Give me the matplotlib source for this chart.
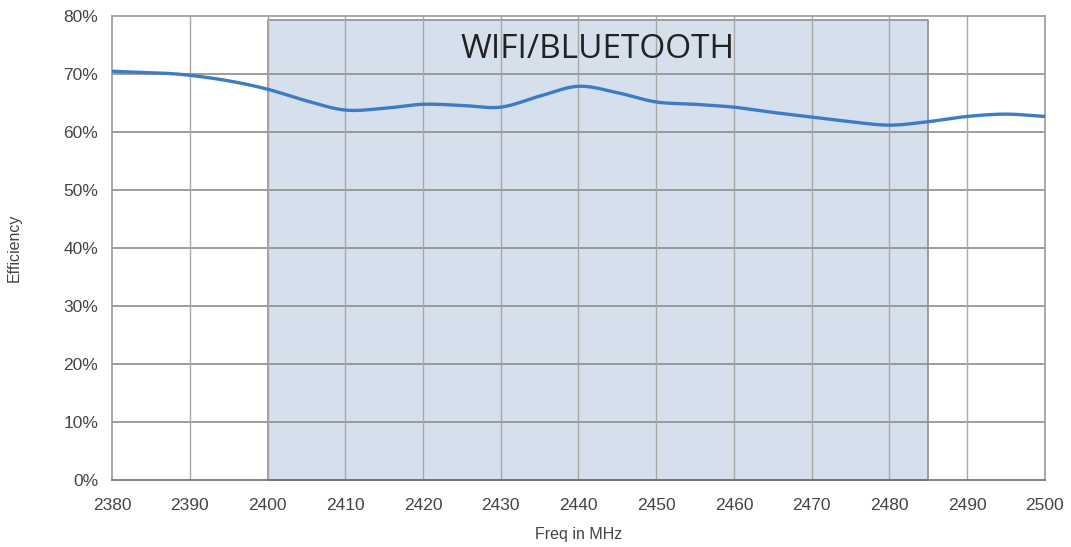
import matplotlib
matplotlib.use('Agg')
import matplotlib.pyplot as plt
import numpy as np

# data
freq = [2380, 2390, 2400, 2405, 2410, 2415, 2420, 2425, 2430, 2435, 2440, 2445,
        2450, 2455, 2460, 2465, 2470, 2475, 2480, 2485, 2490, 2495, 2500]
eff = [70.5, 69.8, 67.4, 65.4, 63.8, 64.1, 64.8, 64.6, 64.3, 66.2, 67.9, 66.8,
       65.2, 64.8, 64.3, 63.4, 62.6, 61.8, 61.2, 61.8, 62.7, 63.1, 62.7]
band_lo, band_hi, band_top = 2400, 2485, 79.3
band_label = 'WIFI/BLUETOOTH'


# smooth curve through the read points (cubic hermite)
def smooth(xp, yp, xq):
    xp = np.asarray(xp, float)
    yp = np.asarray(yp, float)
    m = np.gradient(yp, xp)
    out = np.empty_like(xq)
    for k, x in enumerate(xq):
        i = min(np.searchsorted(xp, x, side='right') - 1, len(xp) - 2)
        h = xp[i + 1] - xp[i]
        t = (x - xp[i]) / h
        h00 = 2*t**3 - 3*t**2 + 1
        h10 = t**3 - 2*t**2 + t
        h01 = -2*t**3 + 3*t**2
        h11 = t**3 - t**2
        out[k] = h00*yp[i] + h10*h*m[i] + h01*yp[i+1] + h11*h*m[i+1]
    return out


fig = plt.figure(figsize=(10.71, 5.47), dpi=100)
ax = fig.add_axes([0.1046, 0.1225, 0.871, 0.848])

# band shading
ax.fill_between([band_lo, band_hi], 0, band_top, color='#d6e0ed',
                edgecolor='#8a8f96', linewidth=1.2, zorder=1)

# gridlines
for y in range(10, 80, 10):
    ax.axhline(y, color='#8c8c8c', linewidth=1.2, zorder=2)
for x in range(2390, 2500, 10):
    ax.axvline(x, color='#a8a8a8', linewidth=1.0, zorder=2)

xs = np.linspace(freq[0], freq[-1], 600)
ax.plot(xs, smooth(freq, eff, xs), color='#3d7cc4', linewidth=2.4, zorder=4)

ax.text((band_lo + band_hi) / 2, 74.2, band_label, ha='center', va='center',
        fontsize=24, family='Open Sans', color='#222222', zorder=5)

ax.set_xlim(2380, 2500)
ax.set_ylim(0, 80)
ax.set_xticks(range(2380, 2501, 10))
ax.set_yticks(range(0, 81, 10))
ax.set_yticklabels([f'{v}%' for v in range(0, 81, 10)])
for s in ax.spines.values():
    s.set_color('#9a9a9a')
    s.set_linewidth(1.2)
ax.spines['bottom'].set_color('#6e6e6e')
ax.tick_params(length=0, labelsize=12.5, labelcolor='#444444',
               labelfontfamily='Liberation Sans')
ax.tick_params(axis='x', pad=13)
ax.tick_params(axis='y', pad=10)
ax.set_xlabel('Freq in MHz', fontsize=11.5, color='#444444', family='Liberation Sans', labelpad=10)
ax.set_ylabel('Efficiency', fontsize=11.5, color='#444444', family='Liberation Sans', labelpad=30)

plt.savefig('out.png', dpi=100)
